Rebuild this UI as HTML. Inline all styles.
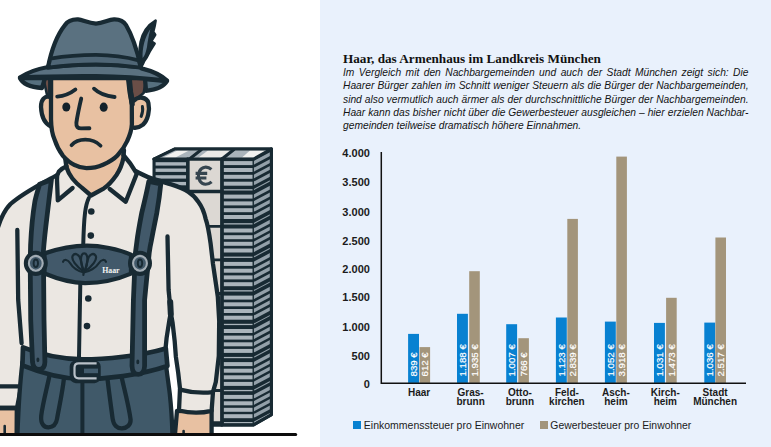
<!DOCTYPE html>
<html><head><meta charset="utf-8"><title>Haar</title>
<style>
html,body{margin:0;padding:0;}
body{width:771px;height:447px;position:relative;overflow:hidden;background:#fff;font-family:"Liberation Sans",sans-serif;color:#1b1b1b;}
#panel{position:absolute;left:320px;top:0;width:451px;height:447px;background:#e9f1fc;}
#title{position:absolute;left:343px;top:50.7px;font-family:"Liberation Serif",serif;font-weight:bold;font-size:13.2px;line-height:15px;white-space:nowrap;letter-spacing:0px;color:#111;}
.bl{position:absolute;left:343px;width:405.5px;font-style:italic;font-size:10.25px;line-height:13px;height:13px;text-align:justify;text-align-last:justify;white-space:nowrap;color:#141414;}
.bl.last{text-align:left;text-align-last:left;}
.yl{position:absolute;left:329.9px;width:40px;text-align:right;font-weight:bold;font-size:11px;line-height:13px;color:#1b1b1b;}
.cat{position:absolute;top:389.1px;width:80px;text-align:center;font-weight:bold;font-size:10px;line-height:8.5px;color:#1b1b1b;}
.leg{position:absolute;top:418.5px;font-size:10.5px;line-height:13px;white-space:nowrap;color:#1b1b1b;}
.sq{position:absolute;top:420.5px;width:8px;height:8px;}
svg{position:absolute;left:0;top:0;}
.vl{font-family:"Liberation Sans",sans-serif;font-size:9.7px;fill:#fff;stroke:#fff;stroke-width:0.2px;}
</style></head><body>
<div id="panel"></div>
<svg width="320" height="447" viewBox="0 0 320 447" style="position:absolute;left:0;top:0">
<g stroke="#182a33" stroke-width="4.3" stroke-linejoin="round" stroke-linecap="round" fill="none">
<clipPath id="flr"><rect x="-5" y="0" width="330" height="434.5"/></clipPath>
<g clip-path="url(#flr)">
<path d="M154 159 L175 148.9 H271.5 V414.6 L253.5 425 H154 Z" fill="#182a33" stroke-width="3"/>
<path d="M154 159 L175 148.9 H271.5 L253.5 159 Z" fill="#aab4bb" stroke="none"/>
<path d="M163 157.6 L177.5 150.4 H189 L175.5 157.6 Z" fill="#f1f1ef" stroke="none"/>
<path d="M198.5 157.6 L208 150.6 H230 L221 157.6 Z" fill="#ecebe8" stroke="none"/>
<path d="M242 157.6 L250 150.6 H266.5 L254.5 157.6 Z" fill="#f1f1ef" stroke="none"/>
<path d="M189.5 159 L201.5 149.5 M222 159 L234 149.5" stroke-width="3"/>
<rect x="189.3" y="160.5" width="32.7" height="265" fill="#dcd8d3" stroke="none"/>
<rect x="155.6" y="162.2" width="30.7" height="3.4" fill="#aab4bb" stroke="none"/>
<rect x="155.6" y="168.5" width="30.7" height="3.4" fill="#aab4bb" stroke="none"/>
<rect x="155.6" y="175.2" width="30.7" height="3.4" fill="#aab4bb" stroke="none"/>
<rect x="155.6" y="181.9" width="30.7" height="3.4" fill="#aab4bb" stroke="none"/>
<clipPath id="sidec"><path d="M253.6 158.6 L269.8 149.6 V414.4 L253.6 424 Z"/></clipPath>
<rect x="223.7" y="161.1" width="29.2" height="4.0" fill="#aab4bb" stroke="none"/>
<rect x="223.7" y="168.0" width="29.2" height="4.0" fill="#aab4bb" stroke="none"/>
<rect x="223.7" y="174.8" width="29.2" height="4.0" fill="#aab4bb" stroke="none"/>
<rect x="223.7" y="181.7" width="29.2" height="4.0" fill="#aab4bb" stroke="none"/>
<rect x="223.7" y="189.2" width="29.2" height="1.3" fill="#aab4bb" stroke="none"/>
<rect x="223.7" y="194.6" width="29.2" height="4.0" fill="#aab4bb" stroke="none"/>
<rect x="223.7" y="201.4" width="29.2" height="4.0" fill="#aab4bb" stroke="none"/>
<rect x="223.7" y="208.2" width="29.2" height="4.0" fill="#aab4bb" stroke="none"/>
<rect x="223.7" y="215.0" width="29.2" height="4.0" fill="#aab4bb" stroke="none"/>
<rect x="223.7" y="223.2" width="29.2" height="1.3" fill="#aab4bb" stroke="none"/>
<rect x="223.7" y="228.5" width="29.2" height="4.0" fill="#aab4bb" stroke="none"/>
<rect x="223.7" y="235.2" width="29.2" height="4.0" fill="#aab4bb" stroke="none"/>
<rect x="223.7" y="241.8" width="29.2" height="4.0" fill="#aab4bb" stroke="none"/>
<rect x="223.7" y="248.5" width="29.2" height="4.0" fill="#aab4bb" stroke="none"/>
<rect x="223.7" y="256.6" width="29.2" height="1.3" fill="#aab4bb" stroke="none"/>
<rect x="223.7" y="261.9" width="29.2" height="4.0" fill="#aab4bb" stroke="none"/>
<rect x="223.7" y="268.7" width="29.2" height="4.0" fill="#aab4bb" stroke="none"/>
<rect x="223.7" y="275.4" width="29.2" height="4.0" fill="#aab4bb" stroke="none"/>
<rect x="223.7" y="282.2" width="29.2" height="4.0" fill="#aab4bb" stroke="none"/>
<rect x="223.7" y="290.2" width="29.2" height="1.3" fill="#aab4bb" stroke="none"/>
<rect x="223.7" y="295.6" width="29.2" height="4.0" fill="#aab4bb" stroke="none"/>
<rect x="223.7" y="302.3" width="29.2" height="4.0" fill="#aab4bb" stroke="none"/>
<rect x="223.7" y="309.0" width="29.2" height="4.0" fill="#aab4bb" stroke="none"/>
<rect x="223.7" y="315.7" width="29.2" height="4.0" fill="#aab4bb" stroke="none"/>
<rect x="223.7" y="323.8" width="29.2" height="1.3" fill="#aab4bb" stroke="none"/>
<rect x="223.7" y="329.0" width="29.2" height="4.0" fill="#aab4bb" stroke="none"/>
<rect x="223.7" y="335.6" width="29.2" height="4.0" fill="#aab4bb" stroke="none"/>
<rect x="223.7" y="342.3" width="29.2" height="4.0" fill="#aab4bb" stroke="none"/>
<rect x="223.7" y="348.9" width="29.2" height="4.0" fill="#aab4bb" stroke="none"/>
<rect x="223.7" y="356.9" width="29.2" height="1.3" fill="#aab4bb" stroke="none"/>
<rect x="223.7" y="362.1" width="29.2" height="4.0" fill="#aab4bb" stroke="none"/>
<rect x="223.7" y="368.7" width="29.2" height="4.0" fill="#aab4bb" stroke="none"/>
<rect x="223.7" y="375.3" width="29.2" height="4.0" fill="#aab4bb" stroke="none"/>
<rect x="223.7" y="381.9" width="29.2" height="4.0" fill="#aab4bb" stroke="none"/>
<rect x="223.7" y="389.9" width="29.2" height="1.3" fill="#aab4bb" stroke="none"/>
<rect x="223.7" y="394.9" width="29.2" height="4.0" fill="#aab4bb" stroke="none"/>
<rect x="223.7" y="401.3" width="29.2" height="4.0" fill="#aab4bb" stroke="none"/>
<rect x="223.7" y="407.8" width="29.2" height="4.0" fill="#aab4bb" stroke="none"/>
<rect x="223.7" y="414.2" width="29.2" height="4.0" fill="#aab4bb" stroke="none"/>
<rect x="223.7" y="422.0" width="29.2" height="1.3" fill="#aab4bb" stroke="none"/>
<g clip-path="url(#sidec)" stroke="none">
<path d="M253.2 161.2 L270.2 152.2 V156.0 L253.2 165.0 Z" fill="#93a0a9"/>
<path d="M253.2 168.1 L270.2 159.1 V162.9 L253.2 171.9 Z" fill="#93a0a9"/>
<path d="M253.2 174.9 L270.2 165.9 V169.7 L253.2 178.7 Z" fill="#93a0a9"/>
<path d="M253.2 181.8 L270.2 172.8 V176.6 L253.2 185.6 Z" fill="#93a0a9"/>
<path d="M253.2 189.2 L270.2 180.2 V181.4 L253.2 190.4 Z" fill="#93a0a9"/>
<path d="M253.2 194.7 L270.2 185.7 V189.5 L253.2 198.5 Z" fill="#93a0a9"/>
<path d="M253.2 201.5 L270.2 192.5 V196.3 L253.2 205.3 Z" fill="#93a0a9"/>
<path d="M253.2 208.3 L270.2 199.3 V203.1 L253.2 212.1 Z" fill="#93a0a9"/>
<path d="M253.2 215.1 L270.2 206.1 V209.9 L253.2 218.9 Z" fill="#93a0a9"/>
<path d="M253.2 223.2 L270.2 214.2 V215.4 L253.2 224.4 Z" fill="#93a0a9"/>
<path d="M253.2 228.6 L270.2 219.6 V223.4 L253.2 232.4 Z" fill="#93a0a9"/>
<path d="M253.2 235.3 L270.2 226.3 V230.1 L253.2 239.1 Z" fill="#93a0a9"/>
<path d="M253.2 241.9 L270.2 232.9 V236.7 L253.2 245.7 Z" fill="#93a0a9"/>
<path d="M253.2 248.6 L270.2 239.6 V243.4 L253.2 252.4 Z" fill="#93a0a9"/>
<path d="M253.2 256.6 L270.2 247.6 V248.8 L253.2 257.8 Z" fill="#93a0a9"/>
<path d="M253.2 262.0 L270.2 253.0 V256.8 L253.2 265.8 Z" fill="#93a0a9"/>
<path d="M253.2 268.8 L270.2 259.8 V263.6 L253.2 272.6 Z" fill="#93a0a9"/>
<path d="M253.2 275.5 L270.2 266.5 V270.3 L253.2 279.3 Z" fill="#93a0a9"/>
<path d="M253.2 282.3 L270.2 273.3 V277.1 L253.2 286.1 Z" fill="#93a0a9"/>
<path d="M253.2 290.3 L270.2 281.3 V282.5 L253.2 291.5 Z" fill="#93a0a9"/>
<path d="M253.2 295.7 L270.2 286.7 V290.5 L253.2 299.5 Z" fill="#93a0a9"/>
<path d="M253.2 302.4 L270.2 293.4 V297.2 L253.2 306.2 Z" fill="#93a0a9"/>
<path d="M253.2 309.1 L270.2 300.1 V303.9 L253.2 312.9 Z" fill="#93a0a9"/>
<path d="M253.2 315.8 L270.2 306.8 V310.6 L253.2 319.6 Z" fill="#93a0a9"/>
<path d="M253.2 323.8 L270.2 314.8 V316.0 L253.2 325.0 Z" fill="#93a0a9"/>
<path d="M253.2 329.1 L270.2 320.1 V323.9 L253.2 332.9 Z" fill="#93a0a9"/>
<path d="M253.2 335.7 L270.2 326.7 V330.5 L253.2 339.5 Z" fill="#93a0a9"/>
<path d="M253.2 342.4 L270.2 333.4 V337.2 L253.2 346.2 Z" fill="#93a0a9"/>
<path d="M253.2 349.0 L270.2 340.0 V343.8 L253.2 352.8 Z" fill="#93a0a9"/>
<path d="M253.2 356.9 L270.2 347.9 V349.1 L253.2 358.1 Z" fill="#93a0a9"/>
<path d="M253.2 362.2 L270.2 353.2 V357.0 L253.2 366.0 Z" fill="#93a0a9"/>
<path d="M253.2 368.8 L270.2 359.8 V363.6 L253.2 372.6 Z" fill="#93a0a9"/>
<path d="M253.2 375.4 L270.2 366.4 V370.2 L253.2 379.2 Z" fill="#93a0a9"/>
<path d="M253.2 382.0 L270.2 373.0 V376.8 L253.2 385.8 Z" fill="#93a0a9"/>
<path d="M253.2 389.9 L270.2 380.9 V382.1 L253.2 391.1 Z" fill="#93a0a9"/>
<path d="M253.2 395.0 L270.2 386.0 V389.8 L253.2 398.8 Z" fill="#93a0a9"/>
<path d="M253.2 401.4 L270.2 392.4 V396.2 L253.2 405.2 Z" fill="#93a0a9"/>
<path d="M253.2 407.9 L270.2 398.9 V402.7 L253.2 411.7 Z" fill="#93a0a9"/>
<path d="M253.2 414.3 L270.2 405.3 V409.1 L253.2 418.1 Z" fill="#93a0a9"/>
<path d="M253.2 422.0 L270.2 413.0 V414.2 L253.2 423.2 Z" fill="#93a0a9"/>
</g>
<path d="M187.8 159 V193 M221.8 159 V425" stroke-width="3.4"/>
<path d="M253.2 159 V425" stroke-width="1.2"/>
<path d="M187.8 191.5 H221.8" stroke-width="3.4"/>
<path d="M196 226.4 H222" stroke-width="2.8"/>
<path d="M196 259.8 H222" stroke-width="2.8"/>
<path d="M196 293.5 H222" stroke-width="2.8"/>
<path d="M196 324.4 H222" stroke-width="2.8"/>
<path d="M196 357.5 H222" stroke-width="2.8"/>
<path d="M196 390.5 H222" stroke-width="2.8"/>
<path d="M196 422.6 H222" stroke-width="2.8"/>
<path d="M211.4 169.4 C207.6 166 201.8 166.4 199.6 171 C198 174.4 198.2 178.2 200 181.2 C202.6 185.2 208 185 211.6 181.8 M195.6 173.4 H207.2 M195.6 178 H206.4" stroke="#36454f" stroke-width="3.1" stroke-linecap="butt"/>
<path d="M154 159 L175 148.9 H271.5 V414.6 L253.5 425 H154" stroke-width="3"/>
<path d="M154 159 H253.5 L271.5 148.9" stroke-width="3"/>
<path d="M170.8 314 L173 325 L175 341 L176.2 357 L178.5 372.7 L180.4 388 L179 411 L176.6 414 L175 433 H171 L169 395 L166 368 L165 350 L166.4 338 L169.4 320 Z" fill="#fff" stroke="none"/>
<path d="M177 411 L174.4 441 H211.6 V410 Z" fill="#e8c1a2"/>
<path d="M-4 407 H16.8 L16.6 441 H-4 Z" fill="#e8c1a2"/>
<path d="M57 175 C44.5 182.2 24.5 191.6 10.5 204 C4 210.5 0 219 -4 234 L-4 408 L17 408 L24 372 L164 372 L165.5 349 L166.6 338 L169.4 320 L170.8 313 L172.6 323 L174.7 341.3 L175.9 357 L178.2 372.7 L180 388.5 L179 410.5 Q195.5 414.6 211.6 410.8 L213 391.8 L215.8 382 L218.8 356 L219.2 321 L217.8 296.6 L213 264 L210.6 243.5 C209 232 207.5 224 205.7 219 C204 211 201.5 206 198.3 201.7 C195 197 192 194 188.4 191.8 C183 188.5 177 186.3 171.2 184.4 C164 182 158 180.3 151.5 178.3 C146 176.5 141 174 135.5 171" fill="#ebe7e2"/>
<path d="M180 389.6 Q196 394 212.8 392.2"/>
<path d="M-2 386.4 H18 M-2 408 H17"/>
<path d="M4.7 426 V440 M183.6 431 V440" stroke-width="2.6"/>
<path d="M17.3 230 L18.2 300 L21.6 343"/>
<path d="M167.5 236.5 L168.6 290 L170.8 313"/>
<path d="M170.2 302 L170.8 314" stroke-width="6"/>
<path d="M88.8 198 C85.5 205 84 214 83.2 246 M80.3 284 L79 357" stroke-width="4"/>
<circle cx="91.3" cy="211.5" r="3.3" fill="#182a33" stroke="none"/>
<circle cx="90.8" cy="235.6" r="3.3" fill="#182a33" stroke="none"/>
<circle cx="88.3" cy="298.5" r="3.3" fill="#182a33" stroke="none"/>
<circle cx="87" cy="326.1" r="3.3" fill="#182a33" stroke="none"/>
<path d="M22.5 362 C20 382 18.4 405 17.2 441 H172.6 C172.2 420 171 405 169.8 394 C168.6 384 167 374 165.4 360 Z" fill="#405969"/>
<path d="M49.2 377 C46 392 42.5 405 41.2 416 C40.5 424.5 44.5 427.5 48.5 427.3 C53.5 427 56.2 424 57 419 C59.5 405 62.5 392 64 378"/>
<path d="M107.5 379 C109 392 110.8 405 112.6 418.5 C113.6 425.5 117.5 428.6 122 428.4 C127 428 130.8 425 130.6 419.5 C128.6 405 125 392 121.8 378"/>
<path d="M82.4 381 V440" stroke-width="4"/>
<path d="M23 347.4 C40 354.4 60 358.8 82 359.4 C105 359.4 140 356 165.8 348.4 L167.4 366 C140 375.4 105 379 82 379.2 C60 378.6 40 372.6 22.4 365.4 Z" fill="#435c6d" stroke-width="4.7"/>
<rect x="71.8" y="362.6" width="26.8" height="18.4" rx="4" fill="#182a33" stroke-width="4.3"/>
<rect x="84" y="368.6" width="14" height="4.6" fill="#435c6d" stroke="none"/>
<path d="M96.6 363.3 H78.6 Q74.5 363.3 74.5 367.6 V374 Q74.5 378.3 78.6 378.3 H96.6" stroke="#b9c1c8" stroke-width="2.2" stroke-linecap="butt"/>
<path d="M39.6 184.2 C37 193 35.4 198 34.8 202 C32.6 215 31.4 228 30.6 245 L30.2 262 L30.7 320 L32.5 362 Q33.2 369.4 39 369.4 Q44.8 369.4 44.9 362 L44 320 L43.4 251 C44.4 238 45.6 228 47.2 215 C48.6 203 50 192 51.4 179.8 Z" fill="#42596a" stroke-width="4.8"/>
<path d="M148.8 181.4 C146.4 194 143.4 206 141.7 213 C139.6 224 137.8 234 136.9 241.5 L135.4 253 L133.4 300 L132 366 Q132.4 374.4 138.2 374.4 Q144.2 374.4 144.6 366 L144.6 300 L149.2 253 C150 247 150.6 244 151.2 241.5 C153 232 155 222 156.8 213 C158 206 159.4 198 160.8 183.8 Z" fill="#42596a" stroke-width="4.8"/>
<ellipse cx="37.9" cy="359.8" rx="1.5" ry="2.4" fill="#182a33" stroke="none"/><ellipse cx="137.8" cy="361.9" rx="1.5" ry="2.4" fill="#182a33" stroke="none"/>
<path d="M44.5 253.4 C60 248 75 245.6 87 245.6 C100 245.6 118 249 131 254.6 L131 273.6 C118 279.2 100 283 85 283.2 C72 283 58 279.2 44.5 273.6 Z" fill="#42596a"/>
<ellipse cx="35.8" cy="263.3" rx="9.8" ry="10.4" fill="#42596a" stroke-width="4.4"/>
<ellipse cx="35.8" cy="263.3" rx="6.9" ry="7.4" stroke="#a3adb5" stroke-width="2.1"/>
<ellipse cx="35.8" cy="263.3" rx="2.2" ry="3.8" stroke-width="1.9"/>
<ellipse cx="140" cy="263.3" rx="9.8" ry="10.4" fill="#42596a" stroke-width="4.4"/>
<ellipse cx="140" cy="263.3" rx="6.9" ry="7.4" stroke="#a3adb5" stroke-width="2.1"/>
<ellipse cx="140" cy="263.3" rx="2.2" ry="3.8" stroke-width="1.9"/>
<g stroke-width="2.2">
<path d="M83.6 271.6 C76.4 266.5 70.6 259.5 72.8 255.6 C75.2 252 79.8 255.2 80.6 259.5 C81.4 264 82.8 268 83.6 271.6"/>
<path d="M84.2 272 C80.2 264 79.6 253.4 84.2 253.4 C88.8 253.4 88.2 264 84.2 272"/>
<path d="M84.8 271.6 C92 266.5 97.8 259.5 95.6 255.6 C93.2 252 88.6 255.2 87.8 259.5 C87 264 85.6 268 84.8 271.6"/>
<path d="M63 261.8 C64 258.8 68 259.6 70 263 C73 268 79 271.4 83.8 272.4 C89 271.4 96 268 99 263 C101 259.6 105 258.8 106 261.8"/>
<path d="M83.8 270 L83.4 275"/>
</g>
<text x="102.2" y="272.6" font-family="Liberation Serif,serif" font-weight="bold" font-size="7.2" fill="#f3f3f3" stroke="none" textLength="17.4" lengthAdjust="spacingAndGlyphs">Haar</text>
<path d="M66.4 166 L59 171 L57.1 179.5 L57.8 200.4 L72.6 188 L81 187 L71.4 177 Z" fill="#ebe7e2" stroke="none"/>
<path d="M123.2 155 L136.8 173.4 L125.7 201.7 L109.7 188.9 L110 184.4 L122 164.8 Z" fill="#ebe7e2" stroke="none"/>
<path d="M64 150 L66.4 167 C68 172 70 175.5 72.4 178.5 C76 183 79 185.5 81.8 187.6 L91 195.5 L104 188.3 C109 185 113 180 116.5 175 C119.5 170.5 122 165 123.4 158 L124 150 Z" fill="#e8c1a2"/>
<path d="M66.6 166.2 C63.5 167.5 60.5 169.5 58.8 171.6 C57.2 174 57 177 57 179.5 L57.8 200.4 L72.6 188"/>
<path d="M123.4 155 C128 160 133 167 136.8 173.6 L125.7 201.7 L109.7 189"/>
<path d="M43.5 79 H53 L51 97 H47.5 Z" fill="#6a4e47" stroke-width="2.6"/>
<path d="M128 79 H146.5 L143.6 93 L138 97.5 L134 101.5 Z" fill="#6a4e47" stroke-width="2.6"/>
<path d="M50 97 C44.8 95.4 40.8 99.5 41 107 C41.4 115 44.2 123.5 51 126.6" fill="#e8c1a2"/>
<path d="M133.8 100.6 C138.5 96 146.6 96.8 148.4 103 C150 110 148 120 143 124.6 C140 127 137 128.2 133.6 127.6" fill="#e8c1a2"/>
<path d="M142.4 106.5 C143.2 110 142.4 113.4 141.2 116.4" stroke-width="3"/>
<path d="M51 78 L51 119.3 C51.2 129 52.4 135 54.6 139.6 C57 147 60 152 63 155.8 C67 160.4 71 163.4 75 165.2 C79 167.4 82.6 168.2 86.5 168.2 C93 168.2 98.6 166.8 103 164.8 C109 162 114 159 117.4 155.4 C122 150.6 125 146 127.2 141 C130 135 131.6 130 131.9 124.2 L131.8 104 L129.6 92 L128 78 Z" fill="#e8c1a2"/>
<path d="M129.4 80 L130.6 92 L132.2 104" stroke-width="5.2"/>
<path d="M50.6 80 L50.6 96" stroke-width="5"/>
<path d="M57.2 96.6 Q67.5 95.6 75.4 89.4 M94 88.7 Q101 95.6 114.6 97" stroke-width="3.8"/>
<ellipse cx="66.3" cy="107" rx="4" ry="4.6" fill="#13212a" stroke="none"/><ellipse cx="103.7" cy="107.2" rx="4" ry="4.6" fill="#13212a" stroke="none"/>
<path d="M81.2 98.6 C79 108 77.2 117 76.4 122.6 C76 127 78 128.4 81 128.4 L89.4 128.2" stroke-width="3.9"/>
<path d="M71.5 145.2 C75 141.2 80 139.7 85.3 139.7 C91 139.7 96.5 141.7 100.6 145.7" stroke-width="3.7"/>
<path d="M20 78 C22.5 83.5 30 87.2 42 88 L45 78 Z" fill="#56707f"/>
<path d="M167 81 C164 86.4 157 89.6 146 90.8 L145 79 Z" fill="#56707f"/>
<path d="M20 77.6 C27 72.6 37 69 48 67 L53 58 L137 58 L141.5 68.4 C152 71 161 75 167 80.6 C140 77.6 115 76.3 96 76.1 C70 75.9 40 76.5 20 77.6 Z" fill="#5a7180"/>
<path d="M141.6 66 C139.2 58 139 50 140.6 42 C142.6 33 148 25 155.6 20.6 C155 25 154 29 153.2 31.8 L155.2 34.8 L151.2 41.2 L154.6 43.6 L149.6 51.6 C148 55 146 58.6 144.2 61 C143.2 63.4 142.4 65 141.6 66 Z" fill="#182a33" stroke-width="2.6"/>
<path d="M142.6 58 C142.2 48 144.6 37.4 150.4 29 C148.6 36 147.6 42 147 47 C146 52 144.6 56 142.6 58 Z" fill="#5d7688" stroke="none"/>
<path d="M48 67.4 C51 52 57 35 65 25 C68 20.5 72 19.2 78 19.4 C83 20 88 23 96 23.6 C103 23.6 108 19.6 114 19.3 C120 19.1 123.6 21 126 25 C132 35 137 50 140.8 67 C125 65.2 110 64.4 96 64.3 C80 64.3 64 65.4 48 67.4 Z" fill="#5a7180"/>
<path d="M50.4 58.6 C66 56 82 54.9 96 54.9 C111 55 126 57 138.6 60.4 L140.8 67.6 C125 65.6 110 64.6 96 64.5 C80 64.5 64 65.6 48 67.6 Z" fill="#4f6676" stroke-width="3.8"/>
</g>
<path d="M-2 434.5 H295.6" stroke="#0c0c0c" stroke-width="3.2"/>
</g></svg>
<div id="title">Haar, das Armenhaus im Landkreis München</div>
<div class="bl" style="top:65.6px">Im Vergleich mit den Nachbargemeinden und auch der Stadt München zeigt sich: Die</div>
<div class="bl" style="top:78.95px">Haarer Bürger zahlen im Schnitt weniger Steuern als die Bürger der Nachbargemeinden,</div>
<div class="bl" style="top:93.2px">sind also vermutlich auch ärmer als der durchschnittliche Bürger der Nachbargemeinden.</div>
<div class="bl" style="top:105.65px">Haar kann das bisher nicht über die Gewerbesteuer ausgleichen – hier erzielen Nachbar-</div>
<div class="bl last" style="top:119px">gemeinden teilweise dramatisch höhere Einnahmen.</div>
<svg width="771" height="447" viewBox="0 0 771 447">
<rect x="408.1" y="333.9" width="10.9" height="49.0" fill="#0881d1"/>
<rect x="419.5" y="347.1" width="10.6" height="35.8" fill="#a3957b"/>
<rect x="457.0" y="313.8" width="10.9" height="69.1" fill="#0881d1"/>
<rect x="469.2" y="271.2" width="10.6" height="111.7" fill="#a3957b"/>
<rect x="506.2" y="324.2" width="10.9" height="58.7" fill="#0881d1"/>
<rect x="518.3" y="338.2" width="10.6" height="44.7" fill="#a3957b"/>
<rect x="555.9" y="317.5" width="10.9" height="65.4" fill="#0881d1"/>
<rect x="567.3" y="218.9" width="10.6" height="164.0" fill="#a3957b"/>
<rect x="604.9" y="321.6" width="10.9" height="61.3" fill="#0881d1"/>
<rect x="616.3" y="156.6" width="10.6" height="226.3" fill="#a3957b"/>
<rect x="654.0" y="322.9" width="10.9" height="60.0" fill="#0881d1"/>
<rect x="666.1" y="297.8" width="10.6" height="85.1" fill="#a3957b"/>
<rect x="704.3" y="322.6" width="10.9" height="60.3" fill="#0881d1"/>
<rect x="715.4" y="237.5" width="10.6" height="145.4" fill="#a3957b"/>
<path d="M381.3 152 V383.2 H746" fill="none" stroke="#111" stroke-width="1.5"/>
<text transform="translate(417.1,376.5) rotate(-90)" class="vl">839 €</text>
<text transform="translate(428.3,376.5) rotate(-90)" class="vl">612 €</text>
<text transform="translate(465.9,376.5) rotate(-90)" class="vl">1.188 €</text>
<text transform="translate(478.0,376.5) rotate(-90)" class="vl">1.935 €</text>
<text transform="translate(515.1,376.5) rotate(-90)" class="vl">1.007 €</text>
<text transform="translate(527.1,376.5) rotate(-90)" class="vl">766 €</text>
<text transform="translate(564.9,376.5) rotate(-90)" class="vl">1.123 €</text>
<text transform="translate(576.1,376.5) rotate(-90)" class="vl">2.839 €</text>
<text transform="translate(613.9,376.5) rotate(-90)" class="vl">1.052 €</text>
<text transform="translate(625.1,376.5) rotate(-90)" class="vl">3.918 €</text>
<text transform="translate(663.0,376.5) rotate(-90)" class="vl">1.031 €</text>
<text transform="translate(674.9,376.5) rotate(-90)" class="vl">1.473 €</text>
<text transform="translate(713.2,376.5) rotate(-90)" class="vl">1.036 €</text>
<text transform="translate(724.2,376.5) rotate(-90)" class="vl">2.517 €</text>
</svg>
<div class="yl" style="top:377.9px">0</div>
<div class="yl" style="top:349.9px">500</div>
<div class="yl" style="top:320.7px">1.000</div>
<div class="yl" style="top:291.0px">1.500</div>
<div class="yl" style="top:262.6px">2.000</div>
<div class="yl" style="top:234.5px">2.500</div>
<div class="yl" style="top:205.6px">3.000</div>
<div class="yl" style="top:175.9px">3.500</div>
<div class="yl" style="top:146.7px">4.000</div>
<div class="cat" style="left:379.1px">Haar</div>
<div class="cat" style="left:430.6px">Gras-<br>brunn</div>
<div class="cat" style="left:479.9px">Otto-<br>brunn</div>
<div class="cat" style="left:526.9px">Feld-<br>kirchen</div>
<div class="cat" style="left:575.9px">Asch-<br>heim</div>
<div class="cat" style="left:625.3px">Kirch-<br>heim</div>
<div class="cat" style="left:675.1px">Stadt<br>München</div>
<div class="sq" style="left:353px;background:#0881d1"></div>
<div class="leg" style="left:363.8px">Einkommenssteuer pro Einwohner</div>
<div class="sq" style="left:539.8px;background:#a3957b"></div>
<div class="leg" style="left:550.3px;font-size:10.4px">Gewerbesteuer pro Einwohner</div>
</body></html>
